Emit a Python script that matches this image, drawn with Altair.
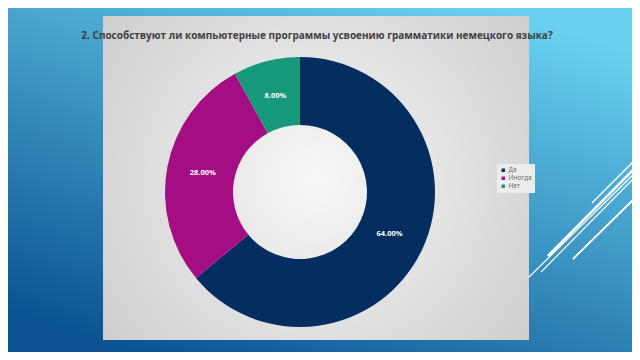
import altair as alt
import pandas as pd

categories = ["Да", "Иногда", "Нет"]
values = [64, 28, 8]
labels = ["64.00%", "28.00%", "8.00%"]
colors = ["#062d60", "#a50e82", "#16997a"]
title_text = "2. Способствуют ли компьютерные программы усвоению грамматики немецкого языка?"

W, H = 624, 344
CX, CY = 292, 184

df = pd.DataFrame({"cat": categories, "val": values, "label": labels, "ord": list(range(len(categories)))})
one = pd.DataFrame({"k": [0]})

bg = alt.Chart(one).mark_rect(
    color=alt.LinearGradient(
        gradient="linear",
        stops=[alt.GradientStop(color="#6ad2f0", offset=0), alt.GradientStop(color="#0b5392", offset=1)],
        x1=0.8, y1=0, x2=0.2, y2=1,
    )
).encode(x=alt.value(0), x2=alt.value(W), y=alt.value(0), y2=alt.value(H))

panel = alt.Chart(one).mark_rect(
    color=alt.RadialGradient(
        gradient="radial",
        stops=[alt.GradientStop(color="#f7f7f7", offset=0), alt.GradientStop(color="#c6c6c6", offset=1)],
        x1=0.5, y1=0.5, r1=0, x2=0.5, y2=0.5, r2=0.75,
    )
).encode(x=alt.value(95), x2=alt.value(521), y=alt.value(8), y2=alt.value(332))

segs = [
    (584, 195, 632, 147, 1.5),
    (540, 248, 632, 155, 2.5),
    (521, 269, 632, 160, 1.2),
    (533, 264, 632, 164, 1.2),
    (565, 251, 632, 185, 1.8),
]
decor = [
    alt.Chart(one).mark_rule(color="white", strokeWidth=sw).encode(
        x=alt.value(a), y=alt.value(b), x2=alt.value(c), y2=alt.value(d)
    )
    for a, b, c, d, sw in segs
]

title = alt.Chart(one).mark_text(
    text=title_text, font="Open Sans", fontSize=10, fontWeight="bold", color="#404040", align="center", baseline="middle"
).encode(x=alt.value(309), y=alt.value(28))

arc = alt.Chart(df).mark_arc(outerRadius=135, innerRadius=67).encode(
    theta=alt.Theta("val:Q", stack=True),
    color=alt.Color(
        "cat:N",
        scale=alt.Scale(domain=categories, range=colors),
        legend=alt.Legend(
            title=None, orient="none", legendX=489, legendY=156, labelFontSize=6.5, labelColor="#606060",
            labelFont="Open Sans", symbolType="square", symbolSize=12, rowPadding=1, padding=3,
            labelOffset=2, fillColor="#ececec", symbolStrokeWidth=0,
        ),
        sort=categories,
    ),
    order=alt.Order("ord:Q"),
    x=alt.value(CX), y=alt.value(CY),
)

text = alt.Chart(df).mark_text(
    radius=99, fontSize=7.5, fontWeight="bold", color="white", font="Open Sans"
).encode(
    theta=alt.Theta("val:Q", stack=True),
    order=alt.Order("ord:Q"),
    text="label:N",
    x=alt.value(CX), y=alt.value(CY),
)

chart = alt.layer(bg, panel, *decor, title, arc, text).properties(
    width=W, height=H, padding=0, autosize="none"
).configure_view(stroke=None)

chart.save("out.html", embed_options={"renderer": "svg", "actions": False})
